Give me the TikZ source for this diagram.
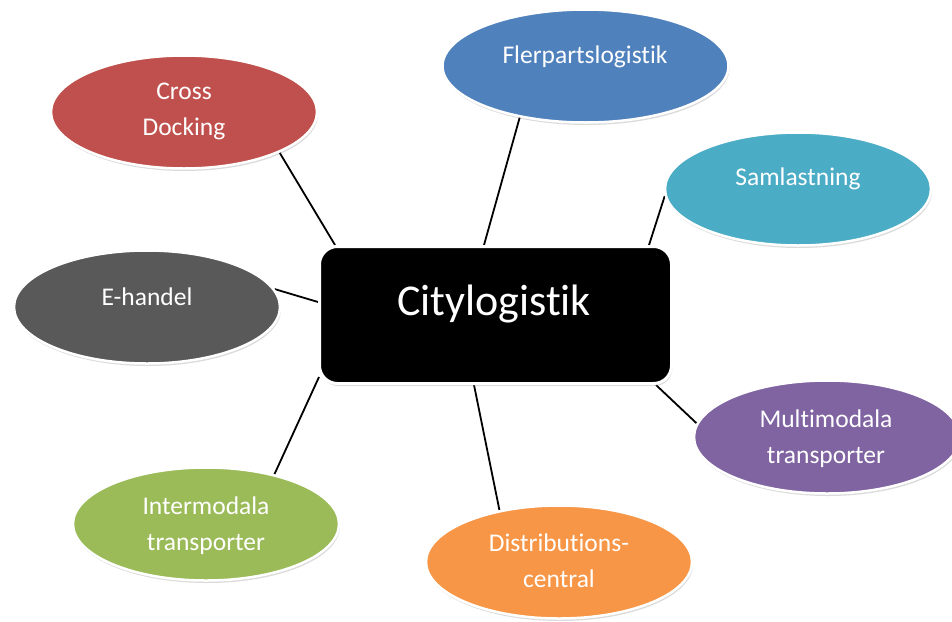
\documentclass[tikz,border=0pt]{standalone}
\usepackage{fontspec}
\setmainfont{Carlito}[Ligatures=NoCommon]
\usetikzlibrary{shapes.geometric,shadows,calc,backgrounds}
\definecolor{cRed}{HTML}{C0504D}
\definecolor{cBlue}{HTML}{4F81BD}
\definecolor{cAqua}{HTML}{4BACC6}
\definecolor{cGray}{HTML}{595959}
\definecolor{cPurple}{HTML}{8064A2}
\definecolor{cGreen}{HTML}{9BBB59}
\definecolor{cOrange}{HTML}{F79646}
\begin{document}
\begin{tikzpicture}[x=1pt,y=-1pt,
  ell/.style={ellipse, minimum width=266pt, minimum height=113pt, inner sep=0pt,
    draw=white, line width=2.5pt,
    drop shadow={opacity=0.28, shadow xshift=1pt, shadow yshift=-2.5pt}},
  lab/.style={text=white, font=\fontsize{25.5}{36}\selectfont, align=center, anchor=base},
  conn/.style={line width=1.8pt, black}]
\useasboundingbox (0,0) rectangle (952,621);

% central node
\node[draw=white, line width=3pt, fill=black, rounded corners=18pt,
      minimum width=352pt, minimum height=137pt, inner sep=0pt,
      drop shadow={opacity=0.3, shadow xshift=1pt, shadow yshift=-2.5pt}] (c) at (495.5,315) {};
\node[text=white, font=\fontsize{44}{50}\selectfont, anchor=base] (ct) at (494,315) {Citylogistik};

% ellipses
\node[ell, fill=cRed]    (cd) at (184,112) {};
\node[ell, fill=cBlue, minimum width=286pt] (fl) at (585.5,66) {};
\node[ell, fill=cAqua]   (sa) at (798,189) {};
\node[ell, fill=cGray]   (eh) at (147,307) {};
\node[ell, fill=cPurple] (mm) at (827,437) {};
\node[ell, fill=cGreen]  (im) at (206,524) {};
\node[ell, fill=cOrange] (dc) at (559,562) {};

% labels (base anchor = baseline of last line)
\node[lab] (cdt) at (184,135) {Cross\\Docking};
\node[lab] (flt) at (585,63)  {Flerpartslogistik};
\node[lab] (sat) at (798,185) {Samlastning};
\node[lab] (eht) at (147,305) {E-handel};
\node[lab] (mmt) at (826,463) {Multimodala\\transporter};
\node[lab] (imt) at (206,550) {Intermodala\\transporter};
\node[lab] (dct) at (559,587) {Distributions-\\central};

% connectors
\begin{scope}[on background layer]
\fill[white] (0,0) rectangle (952,621);
\draw[conn] (cd.-23)  -- ($(c.north west)+(17,0)$);
\draw[conn] (fl.218)  -- ($(c.north west)+(166,0)$);
\draw[conn] (sa.183)  -- ($(c.north west)+(331,0)$);
\draw[conn] (eh.8)    -- ($(c.north west)+(0,57)$);
\draw[conn] (im.36)   -- ($(c.south west)+(1,-8)$);
\draw[conn] (dc.139)  -- ($(c.south west)+(156,0)$);
\draw[conn] (mm.174)  -- ($(c.south east)+(-17,0)$);
\end{scope}
\end{tikzpicture}
\end{document}
